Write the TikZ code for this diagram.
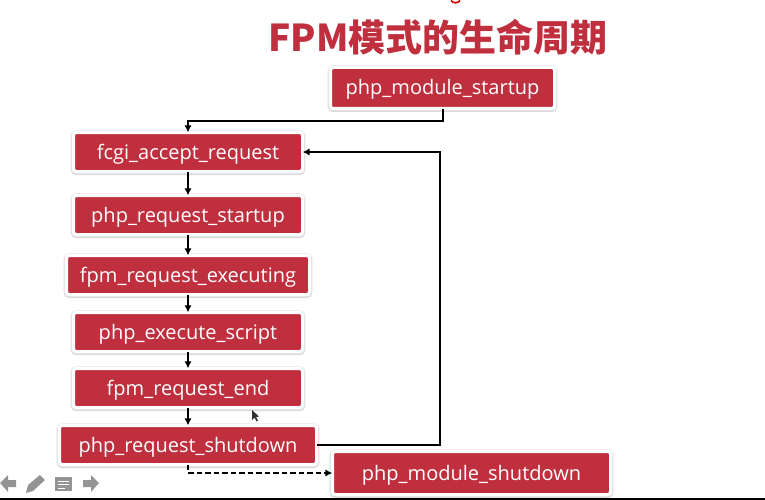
\documentclass[tikz,border=0pt]{standalone}
\usepackage{xcolor}
\usepackage{fontspec}
\setmainfont{Open Sans}
\newfontfamily\cjk{Noto Sans CJK SC}
\usetikzlibrary{arrows.meta, positioning}
\definecolor{fpmred}{HTML}{BF2F3E}

\begin{document}
\begin{tikzpicture}[
    x=1pt, y=-1pt,
    fbox/.style={rectangle, draw=white, line width=3.4pt, fill=fpmred, rounded corners=3pt,
                 minimum height=39.4pt, inner sep=0pt, outer sep=0pt, align=center, text=white,
                 text height=14pt, text depth=0pt,
                 font=\fontsize{20}{22}\selectfont,
                 preaction={draw=black!15, line width=5.2pt, transform canvas={yshift=-.7pt}}},
    arr/.style={-{Latex[length=7pt, width=7.5pt]}, line width=2pt, black},
    darr/.style={-{Latex[length=7pt, width=7.5pt]}, line width=2pt, black,
                 dash pattern=on 5.5pt off 3pt},
    icon/.style={fill=black!42, draw=none},
  ]
    \useasboundingbox (0,0) rectangle (765,500);

    \node[text=fpmred, font=\cjk\bfseries\fontsize{37}{40}\selectfont] (title) at (438,37) {FPM模式的生命周期};

    \node[fbox, minimum width=224.4pt, minimum height=41.4pt] (modstart) at (442.5,88) {php\_module\_startup};
    \node[fbox, minimum width=229.4pt] (fcgi)     at (188,152) {fcgi\_accept\_request};
    \node[fbox, minimum width=229.4pt] (reqstart) at (188,215) {php\_request\_startup};
    \node[fbox, minimum width=243.4pt] (fpmexec)  at (188,275) {fpm\_request\_executing};
    \node[fbox, minimum width=229.4pt] (script)   at (188,332) {php\_execute\_script};
    \node[fbox, minimum width=229.4pt] (fpmend)   at (188,388) {fpm\_request\_end};
    \node[fbox, minimum width=257.4pt] (reqshut)  at (188,445) {php\_request\_shutdown};
    \node[fbox, minimum width=278.4pt, minimum height=43.4pt] (modshut) at (471.5,473) {php\_module\_shutdown};

    \coordinate (loopcorner) at (440,300);

    % main chain
    \draw[arr] (modstart.south) -- ++(0,12.5) -| (fcgi.north);
    \draw[arr] (fcgi) -- (reqstart);
    \draw[arr] (reqstart) -- (fpmexec);
    \draw[arr] (fpmexec) -- (script);
    \draw[arr] (script) -- (fpmend);
    \draw[arr] (fpmend) -- (reqshut);

    % loop back
    \draw[arr] (reqshut.east) -| (loopcorner) |- (fcgi.east);

    % shutdown
    \draw[darr] (reqshut.south) |- (modshut.west);

    % red remnant on top edge
    \draw[red!85!black, line width=1.6pt] (451,0.5) .. controls (453,3.5) and (458,3.5) .. (460,0.5);

    % cursor
    \fill[black!80] (252,410) -- (252,420) -- (254.5,417.5) -- (256.5,421.5) -- (258,420.5) -- (256.2,417) -- (259,416.5) -- cycle;

    % slide controls
    \fill[icon] (0,483) -- (8,475) -- (8,480) -- (16,480) -- (16,487) -- (8,487) -- (8,492) -- cycle;
    \fill[icon] (26,493) -- (28,485) -- (40,475) -- (45,480) -- (33,491) -- cycle;
    \fill[icon] (55,477) rectangle (72,491);
    \draw[white, line width=1pt] (58,481) -- (69,481) (58,484.5) -- (69,484.5) (58,488) -- (65,488);
    \fill[icon] (99,483) -- (91,475) -- (91,480) -- (83,480) -- (83,487) -- (91,487) -- (91,492) -- cycle;

    % bottom edge
    \fill[black] (0,498) rectangle (765,500);
\end{tikzpicture}
\end{document}
